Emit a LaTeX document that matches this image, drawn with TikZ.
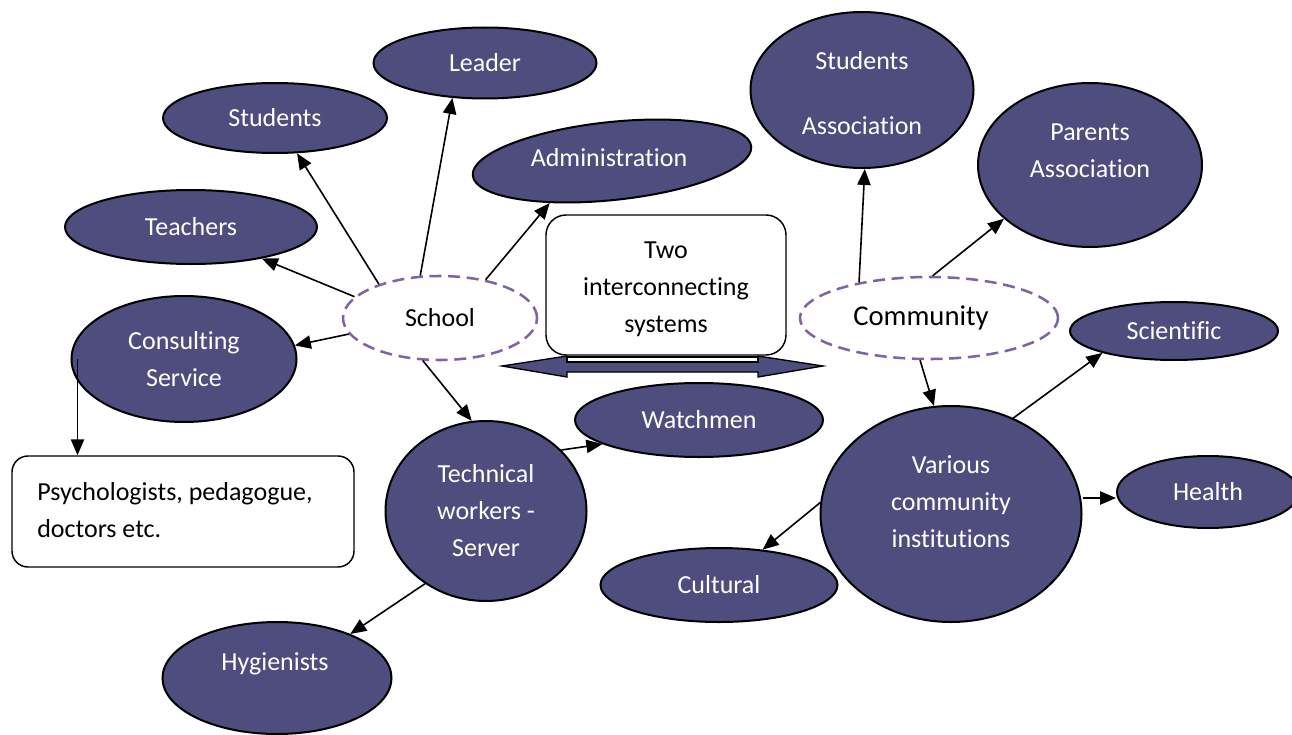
\documentclass[tikz,border=0pt]{standalone}
\usepackage{fontspec}
\setmainfont{Carlito}[Ligatures={NoCommon}]
\usetikzlibrary{shapes.geometric,arrows.meta}
\definecolor{bubfill}{RGB}{79,76,126}
\definecolor{dashpurple}{RGB}{128,100,162}
\newcommand\txtsize{\fontsize{19.5}{27.75}\selectfont}
\begin{document}
\begin{tikzpicture}[x=0.75pt,y=-0.75pt,
  bub/.style={ellipse,draw=black,line width=1.5pt,fill=bubfill,text=white,inner sep=0pt,font=\txtsize,align=center},
  sys/.style={ellipse,draw=dashpurple,line width=1.9pt,dash pattern=on 9pt off 5pt,fill=white,inner sep=0pt,align=center},
  rbox/.style={rectangle,rounded corners=15pt,draw=black,line width=1.1pt,fill=white,inner sep=0pt,font=\txtsize},
  lbl/.style={text=white,font=\txtsize,align=center,inner sep=0pt},
  dlbl/.style={text=black,font=\txtsize,align=center,inner sep=0pt},
  arr/.style={-{Triangle[length=12pt,width=10pt]},line width=1.2pt},
  sz/.style 2 args={minimum width=#1*0.75pt,minimum height=#2*0.75pt}
]
\fill[white] (0,0) rectangle (1292,735);
\useasboundingbox (0,0) rectangle (1292,735);

% school side
\node[bub,sz={223}{71}] (leader) at (485,63) {Leader};
\node[bub,sz={224}{70}] (studL) at (275,118) {Students};
\node[bub,sz={280}{78},rotate=6] (admin) at (612,161) {};
\node[lbl] (adminT) at (609,158) {Administration};
\node[bub,sz={252}{74}] (teach) at (191,227) {Teachers};
\node[bub,sz={225}{126}] (consult) at (184,359) {Consulting\\Service};
\node[sys,sz={194}{84},font=\txtsize] (school) at (440,318) {School};
\node[bub,sz={248}{74}] (watch) at (699,420) {Watchmen};
\node[bub,sz={201}{180}] (tech) at (486,511) {Technical\\workers -\\Server};
\node[bub,sz={229}{112}] (hyg) at (277,678) {};
\node[lbl] (hygT) at (275,664) {Hygienists};
\node[rbox,sz={342}{111},rounded corners=12pt] (psych) at (183,511.5) {};
\node[anchor=west,align=left,font=\txtsize,inner sep=0pt] (psychT) at (37,510) {Psychologists, pedagogue,\\doctors etc.};

% centre double arrow and box
\filldraw[fill=bubfill,draw=black,line width=1pt] (502,366) -- (567,356) -- (567,362) -- (758,362) -- (758,356) -- (823,366) -- (758,377) -- (758,372) -- (567,372) -- (567,377) -- cycle;
\draw[line width=1pt,fill=white] (567,357) rectangle (758,362);
\node[rbox,sz={240}{140}] (two) at (666,285) {};
\node[dlbl] (twoT) at (666,289) {Two\\interconnecting\\systems};

% community side
\node[sys,sz={258}{82}] (comm) at (929,318) {};
\node[dlbl,font=\fontsize{21.5}{26}\selectfont] (commT) at (921,318) {Community};
\node[bub,sz={223}{156}] (studA) at (862,90) {};
\node[lbl] (studAT) at (862,93) {Students\\[21pt]Association};
\node[bub,sz={224}{164}] (parents) at (1090,165) {};
\node[lbl] (parentsT) at (1090,151) {Parents\\Association};
\node[bub,sz={208}{58}] (sci) at (1174,331) {Scientific};
\node[bub,sz={261}{216}] (various) at (951,514) {};
\node[lbl] (variousT) at (951,502) {Various\\community\\institutions};
\node[bub,sz={182}{72}] (health) at (1208,492) {Health};
\node[bub,sz={237}{74}] (cultural) at (719,585) {Cultural};

% connectors
\draw[arr] (school.151) -- (studL.-58);
\draw[arr] (school.115) -- (leader.-133);
\draw[arr] (school.40) -- (admin.-152);
\draw[arr] (school.166) -- (teach.-24);
\draw[arr] (school.190) -- (consult.7);
\draw[arr] (school.-112) -- (tech.99);
\draw[arr] (tech.39) -- (watch.-166);
\draw[arr] (tech.-130) -- (hyg.31);
\draw[arr] ([xshift=5.25pt]consult.west) -- ([xshift=5.25pt]consult.west |- psych.north);
\draw[arr] (comm.153) -- (studA.-88);
\draw[arr] (comm.85) -- (parents.-148);
\draw[arr] (comm.-102) -- (various.99);
\draw[arr] (various.57) -- (sci.-163);
\draw[arr] ([yshift=-4.5pt]health.west -| various.east) -- ([yshift=-4.5pt]health.west);
\draw[arr] (various.175) -- (cultural.39);
\end{tikzpicture}
\end{document}
